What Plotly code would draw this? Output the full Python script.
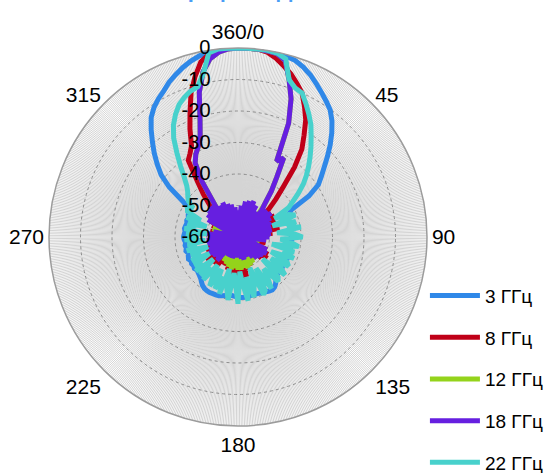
import plotly.graph_objects as go

# category angles (degrees) of the measured pattern, every 3 degrees
ANGLES = list(range(0, 360, 3))

# normalised pattern values, dB
GHZ_3 = [
    0, 0, 0, 0, -0.2, -0.6, -1.1, -2.2, -3.6, -5.3,
    -7.0, -8.6, -10.2, -12.6, -15.5, -18.6, -21.8, -24.8, -27.3, -29.6,
    -34.0, -41.0, -42.4, -42.8, -43.1, -42.7, -43.2, -42.9, -43.3, -42.8,
    -43.1, -42.9, -43.3, -42.8, -43.0, -43.2, -42.7, -43.1, -42.9, -43.2,
    -42.9, -43.1, -42.8, -43.2, -42.9, -42.6, -42.0, -41.0, -40.3, -40.0,
    -40.2, -40.5, -40.8, -40.9, -41.0, -41.1, -41.0, -40.9, -40.8, -40.8,
    -40.9, -41.1, -41.3, -41.2, -41.0, -40.7, -40.4, -40.3, -40.3, -40.2,
    -40.3, -40.5, -40.9, -41.6, -42.3, -42.7, -43.0, -43.3, -42.9, -43.2,
    -43.0, -43.3, -42.8, -43.1, -43.4, -42.9, -43.2, -43.0, -43.3, -42.9,
    -42.7, -42.9, -43.1, -42.8, -43.0, -43.2, -42.9, -43.1, -42.7, -42.4,
    -42.0, -39.0, -33.0, -28.6, -25.5, -22.4, -19.4, -16.2, -13.1, -11.0,
    -9.4, -8.0, -6.2, -4.8, -3.4, -2.2, -1.2, -0.5, -0.2, 0,
]

GHZ_8 = [
    0, 0, 0, -0.6, -2.0, -3.8, -5.6, -7.8, -10.0, -13.5,
    -17.0, -21.5, -25.5, -31.5, -38.5, -43.0, -47.0, -55.0, -47.0, -58.0,
    -46.5, -56.0, -47.0, -59.0, -48.0, -55.0, -46.5, -58.0, -49.0, -56.0,
    -51.0, -58.0, -52.0, -57.0, -51.0, -59.0, -52.0, -56.0, -50.0, -58.0,
    -49.0, -57.0, -48.5, -56.0, -50.0, -58.0, -51.0, -57.0, -52.0, -59.0,
    -51.0, -58.0, -50.0, -57.0, -49.0, -56.0, -47.0, -58.0, -45.5, -55.0,
    -45.0, -57.0, -46.0, -56.0, -48.0, -58.0, -49.0, -57.0, -50.0, -59.0,
    -50.0, -56.0, -49.0, -58.0, -48.5, -57.0, -48.0, -56.0, -47.5, -58.0,
    -48.0, -57.0, -49.0, -56.0, -50.0, -59.0, -51.0, -57.0, -52.0, -58.0,
    -51.0, -57.0, -52.0, -59.0, -51.0, -56.0, -52.0, -58.0, -51.0, -56.0,
    -50.0, -57.0, -49.0, -56.0, -48.0, -54.0, -47.0, -42.5, -38.0, -31.0,
    -29.5, -27.5, -22.5, -17.5, -11.8, -7.3, -3.2, -1.2, -0.3, 0,
]

GHZ_12 = [
    0, 0, 0, -0.2, -0.5, -2.0, -7.5, -13.0, -20.5, -33.0,
    -31.0, -37.5, -42.0, -46.5, -50.5, -57.0, -53.0, -58.0, -54.0, -59.0,
    -53.0, -58.0, -54.0, -60.0, -53.0, -57.0, -52.5, -59.0, -53.0, -58.0,
    -53.0, -59.0, -52.0, -58.0, -53.0, -60.0, -54.0, -58.0, -52.0, -59.0,
    -51.0, -58.0, -52.0, -57.0, -51.0, -59.0, -52.0, -58.0, -51.0, -57.0,
    -50.5, -57.0, -50.0, -58.0, -49.5, -56.0, -50.0, -58.0, -49.5, -57.0,
    -49.5, -58.0, -50.0, -57.0, -49.5, -58.0, -50.0, -56.0, -50.5, -58.0,
    -51.0, -57.0, -52.0, -59.0, -51.0, -58.0, -52.0, -57.0, -53.0, -59.0,
    -53.0, -58.0, -54.0, -57.0, -53.0, -59.0, -54.0, -58.0, -53.0, -57.0,
    -54.0, -58.0, -53.0, -59.0, -52.0, -57.0, -51.5, -58.0, -51.5, -57.0,
    -52.0, -58.0, -53.0, -57.0, -54.0, -59.0, -55.0, -58.0, -48.0, -39.0,
    -32.8, -30.5, -28.8, -26.5, -21.0, -12.5, -6.5, -2.8, -1.0, -0.2,
]

GHZ_18 = [
    0, 0, 0, -0.2, -0.5, -2.0, -7.5, -13.0, -20.5, -33.0,
    -31.0, -37.5, -42.0, -46.5, -49.0, -58.0, -47.5, -60.0, -47.0, -57.0,
    -48.0, -59.0, -48.5, -56.0, -49.0, -60.0, -49.0, -57.0, -49.5, -58.0,
    -50.0, -60.0, -51.0, -58.0, -60.0, -56.0, -60.0, -55.0, -50.0, -59.0,
    -49.5, -58.0, -50.0, -59.0, -50.5, -57.0, -51.0, -60.0, -52.0, -58.0,
    -71.5, -53.0, -72.0, -54.0, -71.0, -52.5, -70.5, -53.0, -69.5, -54.0,
    -68.5, -53.5, -70.0, -54.0, -71.5, -53.0, -72.0, -54.0, -72.5, -53.0,
    -71.5, -55.0, -70.0, -56.0, -50.0, -59.0, -50.5, -57.0, -50.0, -58.0,
    -49.5, -60.0, -50.0, -57.0, -50.5, -58.0, -50.0, -59.0, -50.0, -57.0,
    -50.5, -58.0, -50.0, -60.0, -52.0, -60.0, -56.0, -60.0, -57.0, -60.0,
    -49.0, -58.0, -48.0, -57.0, -47.5, -59.0, -47.0, -56.0, -48.0, -39.0,
    -32.8, -30.5, -28.8, -26.5, -21.0, -12.5, -6.5, -2.8, -1.0, -0.2,
]

GHZ_22 = [
    0, 0, 0, 0, -0.3, -1.5, -7.5, -9.3, -10.0, -12.5,
    -15.0, -17.5, -20.5, -23.2, -25.8, -28.3, -30.8, -33.3, -36.3, -39.2,
    -41.5, -47.0, -42.5, -40.5, -48.5, -41.0, -44.0, -39.8, -47.5, -42.0,
    -39.5, -46.5, -43.0, -40.5, -49.0, -41.5, -45.0, -41.0, -48.5, -42.5,
    -41.5, -47.5, -43.0, -40.8, -49.5, -42.0, -41.0, -47.0, -44.0, -40.5,
    -48.5, -41.0, -40.0, -49.5, -43.5, -40.2, -47.0, -39.5, -44.5, -49.0,
    -38.8, -45.0, -48.5, -39.8, -43.0, -49.5, -41.0, -46.5, -42.0, -48.5,
    -42.0, -45.5, -49.0, -42.5, -47.0, -43.0, -49.5, -42.8, -46.0, -43.5,
    -49.5, -43.5, -47.0, -44.0, -50.0, -43.2, -46.5, -43.8, -49.5, -43.0,
    -47.5, -43.5, -50.0, -42.8, -46.0, -43.5, -49.5, -42.5, -47.0, -42.0,
    -41.5, -43.0, -40.5, -39.5, -38.5, -37.0, -34.5, -31.0, -27.0, -22.5,
    -19.0, -16.3, -14.0, -12.5, -11.3, -10.6, -7.0, -0.8, 0, 0,
]

SERIES_NAMES = ["3 ГГц", "8 ГГц", "12 ГГц", "18 ГГц", "22 ГГц"]
SERIES_VALUES = [GHZ_3, GHZ_8, GHZ_12, GHZ_18, GHZ_22]
SERIES_COLORS = ["#2f88e8", "#c00018", "#94d31b", "#661fe0", "#48d1cc"]

RADIAL_TICKS = [-60, -50, -40, -30, -20, -10, 0]
ANGLE_LABELS = {0: "360/0", 45: "45", 90: "90", 135: "135", 180: "180",
                225: "225", 270: "270", 315: "315"}
RMIN, RMAX = -60, 0


def excel_radar(angles, values):
    """Excel radar charts draw values below the axis minimum through the centre,
    on the opposite side; reproduce that, and close the loop."""
    th, rr = [], []
    for a, v in zip(angles + angles[:1], values + values[:1]):
        if v < RMIN:
            th.append((a + 180) % 360)
            rr.append(2 * RMIN - v)
        else:
            th.append(a)
            rr.append(v)
    return th, rr


fig = go.Figure()
for name, vals, col in zip(SERIES_NAMES, SERIES_VALUES, SERIES_COLORS):
    th, rr = excel_radar(ANGLES, vals)
    fig.add_trace(go.Scatterpolar(
        theta=th, r=rr, mode="lines", name=name, legendgroup=name,
        line=dict(color=col, width=5), hoverinfo="skip",
    ))

grid_angles = [i * 0.5 for i in range(720)]
grid_text = [ANGLE_LABELS.get(int(a), "") if float(a).is_integer() else "" for a in grid_angles]

FONT = "Liberation Sans, Arial, sans-serif"

fig.update_layout(
    width=549, height=473,
    margin=dict(l=0, r=0, t=0, b=0, autoexpand=False),
    paper_bgcolor="white",
    font=dict(family=FONT, color="#000000"),
    polar=dict(
        domain=dict(x=[0.08925, 0.77778], y=[0.09937, 0.89852]),
        bgcolor="white",
        angularaxis=dict(
            direction="clockwise", rotation=90,
            tickmode="array", tickvals=grid_angles, ticktext=grid_text,
            showgrid=True, gridcolor="#d4d4d4", gridwidth=1,
            showline=True, linecolor="#9c9c9c", linewidth=1.5,
            ticks="", tickfont=dict(size=21, color="#000000"),
        ),
        radialaxis=dict(
            range=[RMIN, RMAX], tickmode="array", tickvals=RADIAL_TICKS,
            ticktext=[str(v) for v in RADIAL_TICKS],
            showgrid=True, gridcolor="#8c8c8c", gridwidth=1, griddash="dot",
            showline=False, angle=90, side="counterclockwise", tickangle=90,
            ticks="outside", ticklen=20, tickcolor="rgba(0,0,0,0)",
            tickfont=dict(size=20, color="#000000"),
        ),
    ),
    showlegend=True,
    legend=dict(
        x=0.774, xanchor="left", y=0.415, yanchor="top",
        font=dict(size=19, color="#000000"), tracegroupgap=14,
        itemwidth=50, bgcolor="rgba(0,0,0,0)",
    ),
    annotations=[dict(
        text="<b>Графики ДН</b>", x=0.44, xref="paper", y=0.9905, yref="paper",
        xanchor="center", yanchor="bottom", showarrow=False,
        font=dict(size=22, color="#4a9df5", family=FONT),
    )],
)

# the page is photographed at exactly the figure size: drop the default body margin
fig.write_html("out.html", config={"displayModeBar": False},
               post_script="document.body.style.margin='0px';")
